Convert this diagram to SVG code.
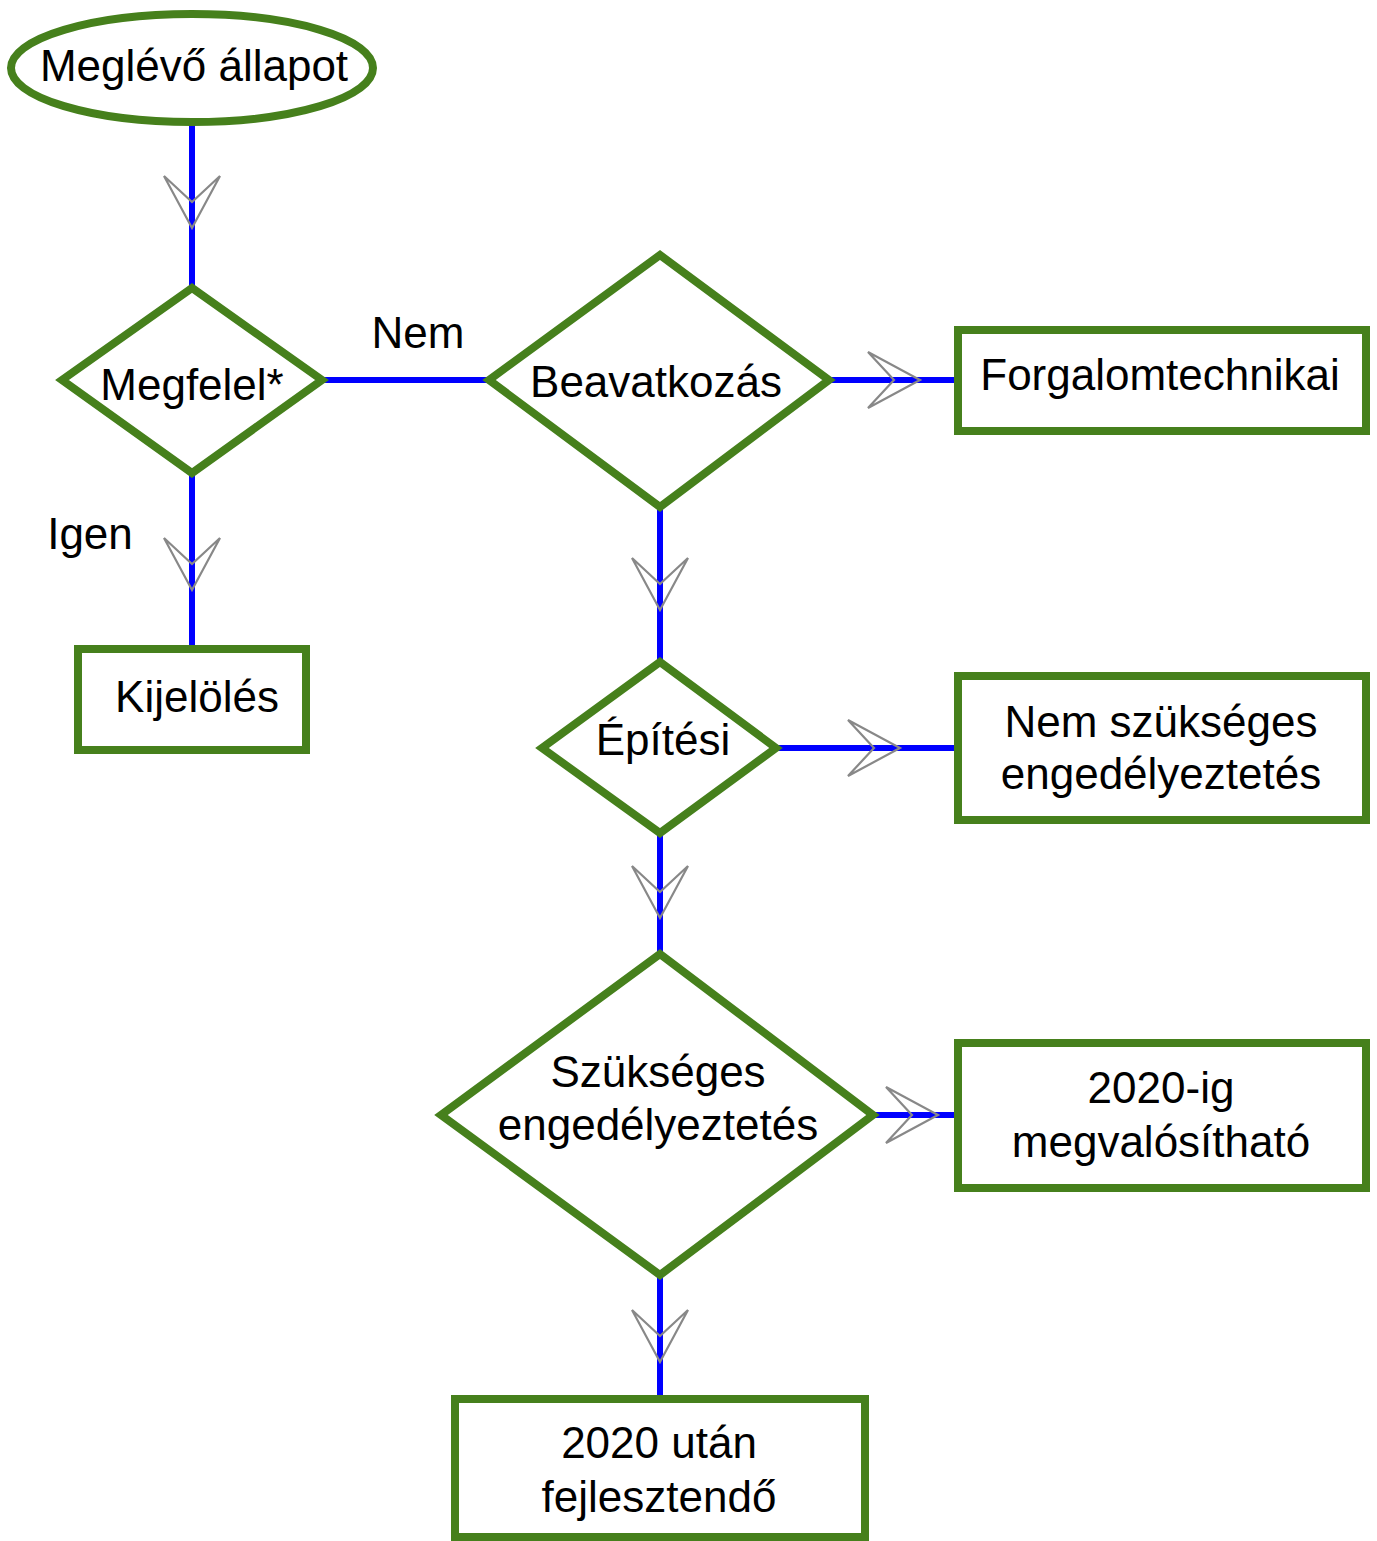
<svg xmlns="http://www.w3.org/2000/svg" xmlns:xlink="http://www.w3.org/1999/xlink" width="1377" height="1541" viewBox="0 0 1377 1541">
<style>
.shape{fill:#fff;stroke:#46801c;stroke-width:8}
.conn{stroke:#0000ff;stroke-width:6;fill:none}
.arr{fill:none;stroke:#888;stroke-width:2.2;stroke-linejoin:miter}
text{font-family:"Liberation Sans",Arial,sans-serif;font-size:44px;fill:#000;text-anchor:middle}
</style>
<defs>
<path id="ad" d="M-28,-52 L0,0 L28,-52 L0,-26 Z"/>
<path id="ar" d="M-52,-28 L0,0 L-52,28 L-26,0 Z"/>
</defs>
<g id="connectors">
<line class="conn" x1="192" y1="122" x2="192" y2="288"/>
<line class="conn" x1="322" y1="380" x2="489" y2="380"/>
<line class="conn" x1="829" y1="380" x2="954" y2="380"/>
<line class="conn" x1="192" y1="473" x2="192" y2="649"/>
<line class="conn" x1="660" y1="507" x2="660" y2="662"/>
<line class="conn" x1="776" y1="748" x2="954" y2="748"/>
<line class="conn" x1="660" y1="833" x2="660" y2="954"/>
<line class="conn" x1="873" y1="1115" x2="954" y2="1115"/>
<line class="conn" x1="660" y1="1275" x2="660" y2="1399"/>
<use class="arr" href="#ad" x="192" y="228"/>
<use class="arr" href="#ad" x="192" y="590"/>
<use class="arr" href="#ad" x="660" y="610"/>
<use class="arr" href="#ad" x="660" y="918"/>
<use class="arr" href="#ad" x="660" y="1362"/>
<use class="arr" href="#ar" x="920" y="380"/>
<use class="arr" href="#ar" x="900" y="748"/>
<use class="arr" href="#ar" x="938" y="1115"/>
<text x="418" y="348">Nem</text>
<text x="90" y="549">Igen</text>
</g>
<g id="n-meglevo">
<ellipse class="shape" cx="192" cy="68" rx="181" ry="54"/>
<text x="194" y="81">Meglévő állapot</text>
</g>
<g id="n-megfelel">
<polygon class="shape" points="192,288 62,380 192,473 322,380"/>
<text x="192" y="400">Megfelel*</text>
</g>
<g id="n-beavatkozas">
<polygon class="shape" points="660,255 489,380 660,507 829,380"/>
<text x="656" y="397">Beavatkozás</text>
</g>
<g id="n-forgalom">
<rect class="shape" x="958" y="330" width="408" height="101"/>
<text x="1160" y="390">Forgalomtechnikai</text>
</g>
<g id="n-kijeloles">
<rect class="shape" x="78" y="649" width="228" height="101"/>
<text x="197" y="712">Kijelölés</text>
</g>
<g id="n-epitesi">
<polygon class="shape" points="660,662 542,748 660,833 776,748"/>
<text x="663" y="755">Építési</text>
</g>
<g id="n-nemszukseges">
<rect class="shape" x="958" y="676" width="408" height="144"/>
<text x="1161" y="737">Nem szükséges</text>
<text x="1161" y="789">engedélyeztetés</text>
</g>
<g id="n-szukseges">
<polygon class="shape" points="660,954 441,1115 660,1275 873,1115"/>
<text x="658" y="1087">Szükséges</text>
<text x="658" y="1140">engedélyeztetés</text>
</g>
<g id="n-2020ig">
<rect class="shape" x="958" y="1043" width="408" height="145"/>
<text x="1161" y="1103">2020-ig</text>
<text x="1161" y="1157">megvalósítható</text>
</g>
<g id="n-2020utan">
<rect class="shape" x="455" y="1399" width="410" height="138"/>
<text x="659" y="1458">2020 után</text>
<text x="659" y="1512">fejlesztendő</text>
</g>
</svg>
